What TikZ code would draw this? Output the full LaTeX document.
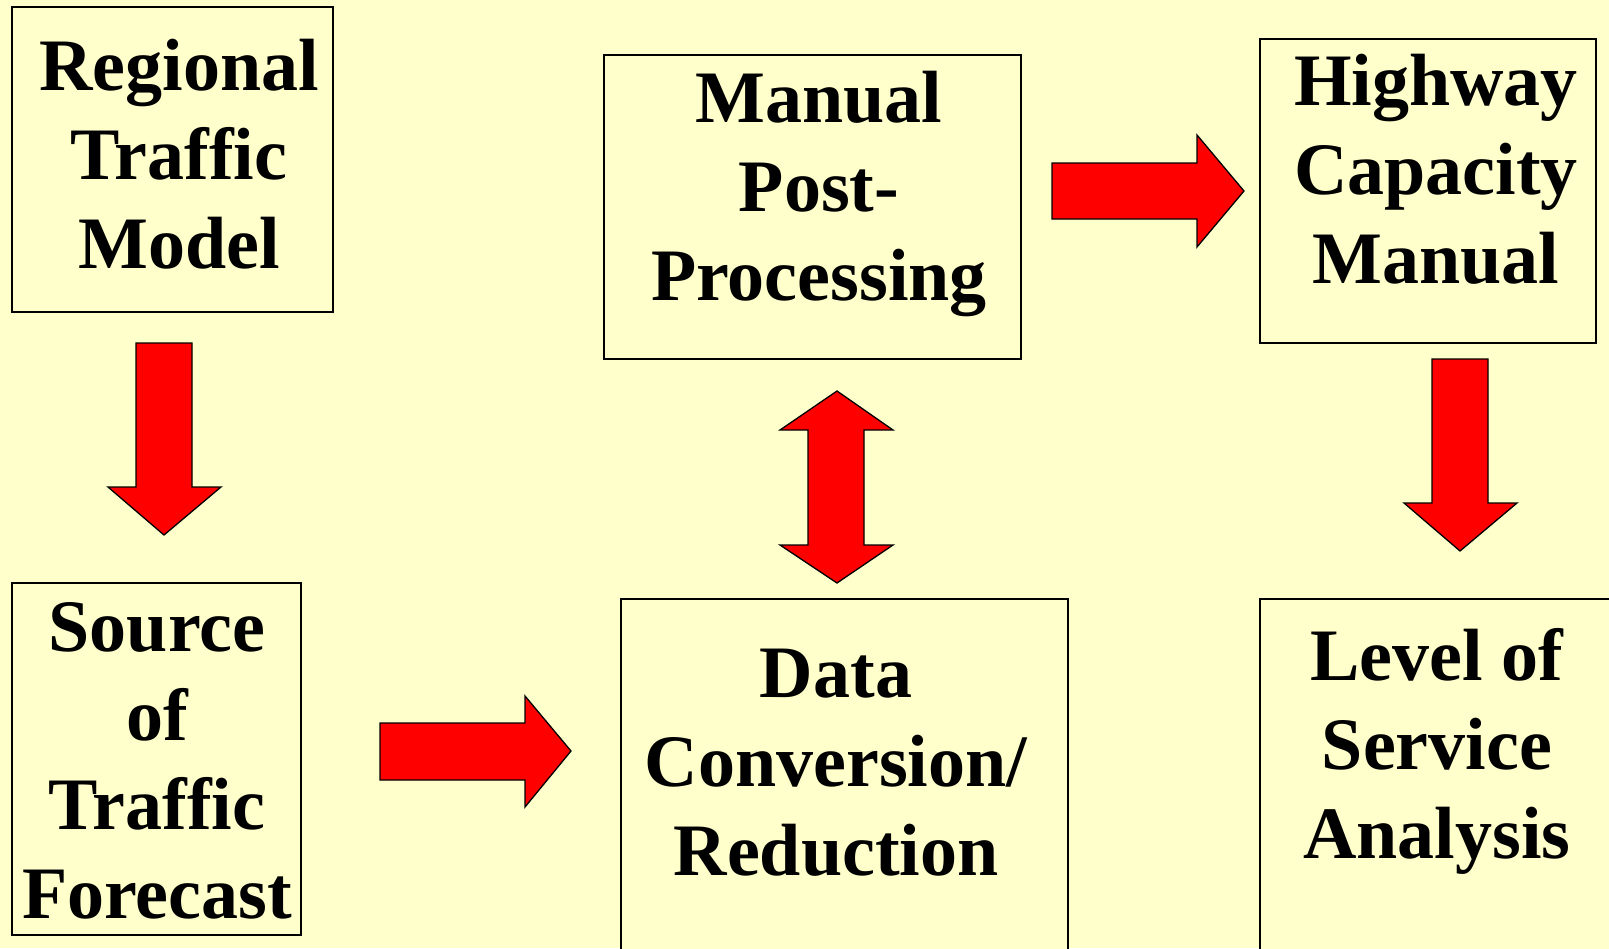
\documentclass[tikz,border=0pt]{standalone}
\usepackage{fontspec}
\setmainfont{Liberation Serif}
\definecolor{bg}{HTML}{FFFFCC}
\definecolor{arrred}{HTML}{FF0000}
\begin{document}
\begin{tikzpicture}[x=1pt,y=-1pt,
  box/.style={draw=black,line width=2pt,fill=bg,rectangle,anchor=north west,inner sep=0pt,outer sep=0pt},
  lbl/.style={anchor=base,inner sep=0pt,font=\fontsize{74}{89}\selectfont\bfseries},
  blk/.style={draw=black,line width=1.3pt,fill=arrred,line join=miter}]
\useasboundingbox (0,0) rectangle (1609,948);
\fill[bg] (0,0) rectangle (1609,948);
\clip (0,0) rectangle (1609,948);
% boxes
\node[box,minimum width=321pt,minimum height=305pt] (rtm) at (12,7) {};
\node[box,minimum width=289pt,minimum height=352pt] (src) at (12,583) {};
\node[box,minimum width=417pt,minimum height=304pt] (mpp) at (604,55) {};
\node[box,minimum width=336pt,minimum height=304pt] (hcm) at (1260,39) {};
\node[box,minimum width=447pt,minimum height=380pt] (dcr) at (621,599) {};
\node[box,minimum width=380pt,minimum height=380pt] (los) at (1260,599) {};
% texts
\node[lbl] (trtm) at (179,90) {\begin{tabular}[t]{@{}c@{}}Regional\\Traffic\\Model\end{tabular}};
\node[lbl] (tsrc) at (157,651) {\begin{tabular}[t]{@{}c@{}}Source\\of\\Traffic\\Forecast\end{tabular}};
\node[lbl] (tmpp) at (819,122) {\begin{tabular}[t]{@{}c@{}}Manual\\Post-\\Processing\end{tabular}};
\node[lbl] (thcm) at (1436,105) {\begin{tabular}[t]{@{}c@{}}Highway\\Capacity\\Manual\end{tabular}};
\node[lbl] (tdcr) at (836,697) {\begin{tabular}[t]{@{}c@{}}Data\\Conversion/\\Reduction\end{tabular}};
\node[lbl] (tlos) at (1437,680) {\begin{tabular}[t]{@{}c@{}}Level of\\Service\\Analysis\end{tabular}};
% block arrows
\draw[blk] (136,343) -- (192,343) -- (192,487) -- (221,487) -- (164,535) -- (108,487) -- (136,487) -- cycle;
\draw[blk] (380,723) -- (525,723) -- (525,696) -- (571,751) -- (525,807) -- (525,780) -- (380,780) -- cycle;
\draw[blk] (837,391) -- (893,430) -- (864,430) -- (864,545) -- (893,545) -- (837,583) -- (780,545) -- (808,545) -- (808,430) -- (780,430) -- cycle;
\draw[blk] (1052,163) -- (1197,163) -- (1197,135) -- (1244,191) -- (1197,247) -- (1197,219) -- (1052,219) -- cycle;
\draw[blk] (1432,359) -- (1488,359) -- (1488,503) -- (1517,503) -- (1460,551) -- (1404,503) -- (1432,503) -- cycle;
\end{tikzpicture}
\end{document}
